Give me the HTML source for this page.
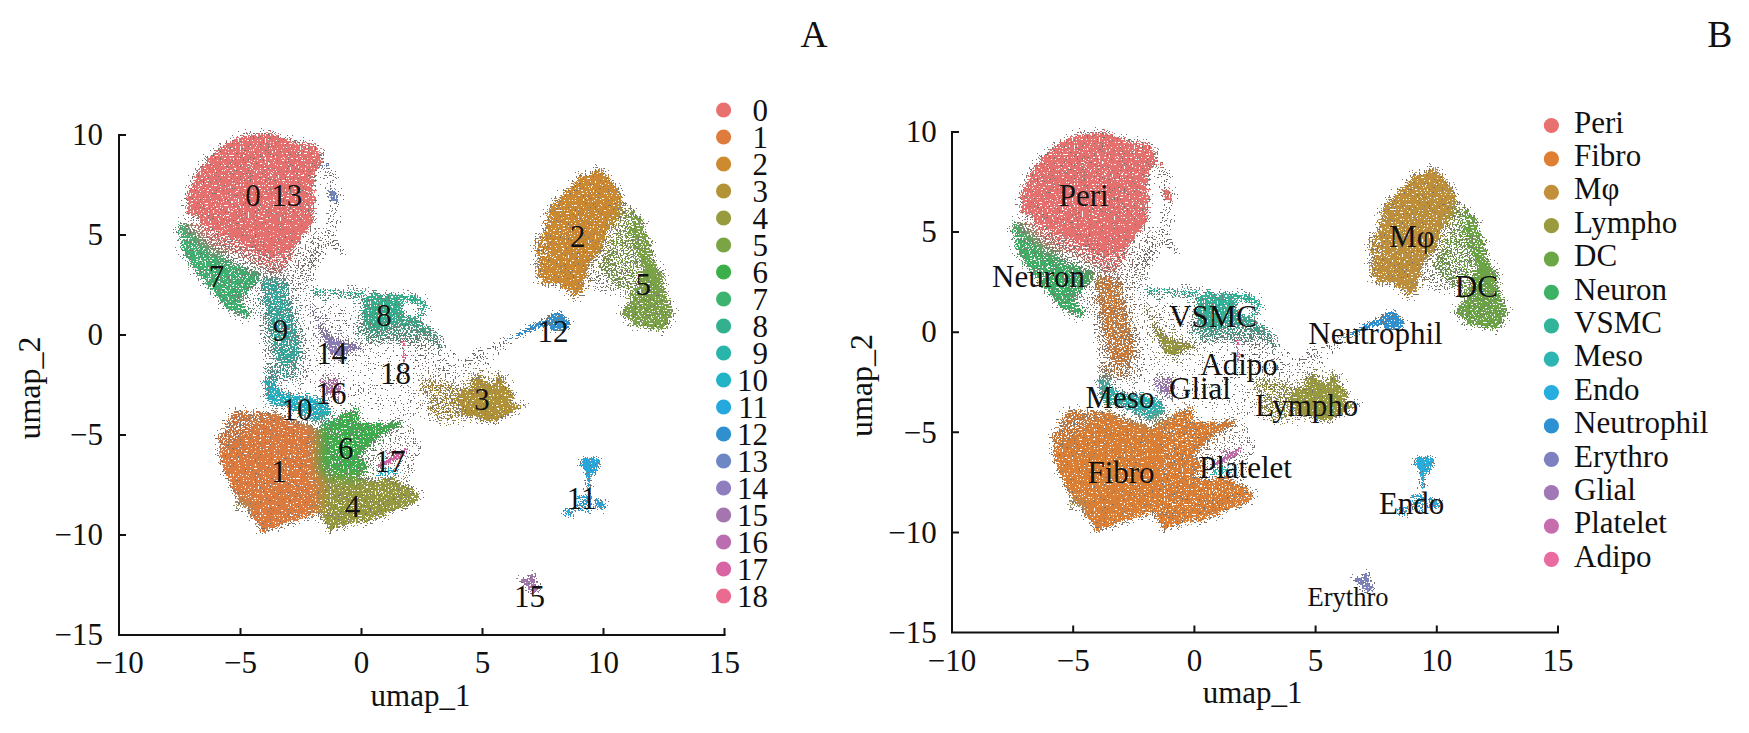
<!DOCTYPE html><html><head><meta charset="utf-8"><style>
html,body{margin:0;padding:0;background:#fff;width:1749px;height:733px;overflow:hidden}
svg{display:block}
text{font-family:"Liberation Serif",serif;fill:#111}
</style></head><body><svg width="1749" height="733" viewBox="0 0 1749 733"><defs><filter id="dith" filterUnits="userSpaceOnUse" x="0" y="0" width="1749" height="733" color-interpolation-filters="sRGB">
  <feTurbulence type="fractalNoise" baseFrequency="0.18" numOctaves="2" seed="4" result="dn"/>
  <feDisplacementMap in="SourceGraphic" in2="dn" scale="9" xChannelSelector="R" yChannelSelector="G" result="disp"/>
  <feGaussianBlur in="disp" stdDeviation="1.8" result="b"/>
  <feGaussianBlur in="disp" stdDeviation="3" result="b2"/>
  <feGaussianBlur in="disp" stdDeviation="6" result="bc"/>
  <feTurbulence type="fractalNoise" baseFrequency="0.6" numOctaves="1" seed="11" result="n"/>
  <feColorMatrix in="n" type="matrix" values="0 0 0 0 0 0 0 0 0 0 0 0 0 0 0 2.5 0 0 0 -0.75" result="na"/>
  <feComposite in="b" in2="na" operator="arithmetic" k1="0" k2="1" k3="-1" k4="0.48" result="d"/>
  <feComponentTransfer in="d" result="m"><feFuncA type="discrete" tableValues="0 1"/></feComponentTransfer>
  <feComposite in="bc" in2="m" operator="in" result="c"/>
  <feColorMatrix in="c" type="matrix" values="1 0 0 0 0 0 1 0 0 0 0 0 1 0 0 0 0 0 100 0" result="col"/>
  <feComposite in="b2" in2="b" operator="arithmetic" k1="-1.0" k2="1.0" k3="0" k4="0" result="gd"/>
  <feTurbulence type="fractalNoise" baseFrequency="0.6" numOctaves="1" seed="29" result="n2"/>
  <feColorMatrix in="n2" type="matrix" values="0 0 0 0 0 0 0 0 0 0 0 0 0 0 0 2.5 0 0 0 -0.75" result="na2"/>
  <feComposite in="gd" in2="na2" operator="arithmetic" k1="0" k2="1" k3="-1" k4="0.48" result="d2"/>
  <feComponentTransfer in="d2" result="m2"><feFuncA type="discrete" tableValues="0 1"/></feComponentTransfer>
  <feFlood flood-color="#7a746f" result="gc"/>
  <feComposite in="gc" in2="m2" operator="in" result="gray"/>
  <feMerge><feMergeNode in="col"/><feMergeNode in="gray"/></feMerge>
  <feGaussianBlur stdDeviation="0.7"/>
</filter><filter id="dith2" filterUnits="userSpaceOnUse" x="0" y="0" width="1749" height="733" color-interpolation-filters="sRGB">
  <feTurbulence type="fractalNoise" baseFrequency="0.18" numOctaves="2" seed="4" result="dn"/>
  <feDisplacementMap in="SourceGraphic" in2="dn" scale="2" xChannelSelector="R" yChannelSelector="G" result="disp"/>
  <feGaussianBlur in="disp" stdDeviation="1.0" result="b"/>
  <feGaussianBlur in="disp" stdDeviation="2" result="b2"/>
  <feGaussianBlur in="disp" stdDeviation="1.2" result="bc"/>
  <feTurbulence type="fractalNoise" baseFrequency="0.6" numOctaves="1" seed="11" result="n"/>
  <feColorMatrix in="n" type="matrix" values="0 0 0 0 0 0 0 0 0 0 0 0 0 0 0 2.5 0 0 0 -0.75" result="na"/>
  <feComposite in="b" in2="na" operator="arithmetic" k1="0" k2="1" k3="-1" k4="0.48" result="d"/>
  <feComponentTransfer in="d" result="m"><feFuncA type="discrete" tableValues="0 1"/></feComponentTransfer>
  <feComposite in="bc" in2="m" operator="in" result="c"/>
  <feColorMatrix in="c" type="matrix" values="1 0 0 0 0 0 1 0 0 0 0 0 1 0 0 0 0 0 100 0" result="col"/>
  <feComposite in="b2" in2="b" operator="arithmetic" k1="-1.0" k2="1.0" k3="0" k4="0" result="gd"/>
  <feTurbulence type="fractalNoise" baseFrequency="0.6" numOctaves="1" seed="29" result="n2"/>
  <feColorMatrix in="n2" type="matrix" values="0 0 0 0 0 0 0 0 0 0 0 0 0 0 0 2.5 0 0 0 -0.75" result="na2"/>
  <feComposite in="gd" in2="na2" operator="arithmetic" k1="0" k2="1" k3="-1" k4="0.48" result="d2"/>
  <feComponentTransfer in="d2" result="m2"><feFuncA type="discrete" tableValues="0 1"/></feComponentTransfer>
  <feFlood flood-color="#7a746f" result="gc"/>
  <feComposite in="gc" in2="m2" operator="in" result="gray"/>
  <feMerge><feMergeNode in="col"/><feMergeNode in="gray"/></feMerge>
  <feGaussianBlur stdDeviation="0.7"/>
</filter><g id="geo"><path id="s0" d="M184.8 222.0 200.0 240.0 216.0 251.0 240.5 254.2 265.1 272.2 281.5 275.5 289.6 264.0 304.0 235.5 313.0 222.0 300.0 215.0 230.0 225.0Z"/><path id="s1" d="M186.1 211.6 187.9 195.0 193.4 178.4 199.0 167.4 211.8 156.3 228.4 142.5 245.0 135.1 261.6 133.3 274.5 134.2 291.1 140.7 315.0 145.3 322.4 154.5 321.5 163.7 315.0 172.9 312.3 185.8 315.0 206.1 313.2 222.6 304.0 235.5 292.9 246.6 285.5 254.0 270.0 256.0 250.0 246.0 228.0 236.0 208.0 226.0 192.0 214.0Z"/><path id="s2" d="M180.0 220.0 192.0 232.0 210.0 248.0 232.0 262.0 258.0 272.0 260.0 280.0 248.0 289.0 242.0 300.0 251.0 316.0 238.0 316.0 221.0 302.0 211.0 290.2 199.6 275.5 188.1 260.8 179.9 249.3 179.0 230.0Z"/><path id="s3" d="M262.0 278.0 286.0 278.0 290.0 300.0 296.0 325.0 300.0 351.0 298.0 366.0 278.0 366.0 274.0 351.0 270.0 334.0 266.0 310.0 262.0 290.0Z"/><path id="s4" d="M266.0 366.0 298.0 366.0 296.0 378.0 268.0 380.0Z"/><path id="s5" d="M265.6 379.5 275.5 380.6 278.7 389.4 291.8 393.7 307.1 395.9 322.4 398.1 331.1 406.8 328.9 417.7 315.8 422.1 302.7 415.5 289.6 409.0 278.7 406.8 267.8 400.3 264.5 389.4Z"/><path id="s6" d="M310.2 305.1 313.0 306.0 322.1 322.2 327.2 334.1 335.7 344.3 349.4 346.0 363.0 346.0 363.0 348.0 339.1 351.2 328.9 349.5 322.1 337.5 316.0 320.0Z"/><path id="s7" d="M324.0 328.0 332.0 338.0 340.0 341.0 350.0 344.0 362.0 345.0 362.0 349.0 348.0 352.0 340.0 358.0 332.0 356.0 328.0 346.0Z"/><path id="s8" d="M322.4 376.3 342.0 378.0 340.0 398.1 325.0 396.0 320.0 386.0Z"/><path id="s9" d="M310.9 289.0 365.5 291.0 365.5 297.0 310.9 296.0Z"/><path id="s10" d="M365.5 294.6 398.0 293.5 401.0 305.0 399.0 324.0 390.0 328.0 380.0 330.0 366.0 326.0 362.0 310.0Z"/><path id="s11" fill-rule="evenodd" d="M398.0 293.5 422.8 297.3 428.2 306.8 422.8 315.0 417.3 324.6 405.0 324.0 398.0 327.0ZM403.0 303.0 420.0 304.0 418.0 315.0 404.0 319.0Z"/><path id="s12" d="M417.0 322.0 432.0 328.0 442.0 340.0 444.0 349.0 438.0 346.0 428.0 336.0 414.0 328.0Z"/><path id="s13" d="M354.0 324.0 420.0 326.0 430.0 340.0 365.0 340.0Z"/><path id="s14" d="M420.0 380.0 448.0 382.0 458.0 388.0 470.0 378.0 477.3 374.3 483.0 379.1 492.6 383.9 501.2 374.3 504.0 379.1 506.0 388.7 514.6 392.5 511.7 400.1 515.5 403.9 526.0 406.8 513.6 410.6 506.0 415.4 496.4 420.2 486.9 422.1 477.3 417.3 467.8 415.4 454.4 417.3 440.0 420.0 425.0 410.0 430.0 398.0 420.0 390.0Z"/><path id="s15" d="M477.3 374.3 483.0 379.1 492.6 383.9 501.2 374.3 504.0 379.1 506.0 388.7 514.6 392.5 511.7 400.1 515.5 403.9 526.0 406.8 513.6 410.6 506.0 415.4 496.4 420.2 486.9 422.1 477.3 417.3 467.8 415.4 454.4 417.3 463.0 409.7 453.4 400.1 458.2 392.5 473.5 390.6 473.5 382.0Z"/><path id="s16" d="M598.6 169.8 610.9 179.6 618.3 187.0 621.9 199.3 618.3 214.0 608.4 233.6 598.6 253.3 586.3 270.4 583.9 287.6 576.5 299.9 571.6 292.5 559.4 285.2 539.7 282.7 536.0 268.0 534.8 245.9 544.6 223.8 549.5 206.6 561.8 194.4 574.1 182.1 583.9 174.7Z"/><path id="s17" d="M598.6 169.8 618.3 187.0 621.9 199.3 618.3 214.0 608.4 233.6 598.6 253.3 586.3 270.4 583.9 287.6 576.5 299.9 571.6 292.5 559.4 285.2 542.0 283.0 540.0 268.0 548.0 250.0 547.0 230.0 552.0 210.0 562.0 194.0 574.0 182.0 584.0 175.0Z"/><path id="s18" d="M621.9 201.7 633.0 209.1 642.8 223.8 650.2 243.4 652.6 258.2 662.4 272.9 664.9 292.5 672.2 307.2 672.2 322.0 662.4 331.8 647.7 329.3 628.1 322.0 620.7 312.1 630.5 302.3 613.3 285.2 598.6 268.0 606.0 245.9 618.3 214.0Z"/><path id="s19" d="M645.0 240.0 652.6 258.2 662.4 272.9 664.9 292.5 672.2 307.2 672.2 322.0 662.4 331.8 647.7 329.3 628.1 322.0 620.7 312.1 630.5 302.3 640.0 280.0Z"/><path id="s20" d="M633.0 209.0 642.8 223.8 650.2 243.4 652.6 258.2 662.4 272.9 664.9 292.5 650.0 290.0 640.0 260.0 630.0 230.0Z"/><path id="s21" d="M217.9 438.5 223.8 428.6 229.8 416.8 239.7 410.8 259.4 412.8 275.3 410.8 285.1 418.7 301.0 422.7 316.8 428.6 327.0 434.5 328.0 454.0 327.0 474.0 326.0 490.0 322.0 509.7 304.9 517.6 289.1 521.6 275.3 527.5 263.4 531.4 255.5 521.6 245.6 509.7 235.7 497.8 227.8 478.1 219.9 458.3Z"/><path id="s22" d="M250.0 430.0 275.3 412.0 285.1 418.7 301.0 422.7 316.8 428.6 327.0 434.5 328.0 454.0 327.0 474.0 326.0 490.0 322.0 509.7 304.9 517.6 289.1 521.6 275.3 527.5 263.4 531.4 255.5 521.6 245.6 509.7 235.7 497.8 227.8 478.1 222.0 455.0 235.0 440.0Z"/><path id="s23" d="M319.9 422.7 339.7 416.7 355.5 408.8 359.4 422.7 379.2 424.7 399.0 420.7 404.9 420.7 385.1 434.5 369.3 446.4 361.4 454.3 369.0 472.0 353.5 480.0 329.8 482.0 318.0 472.0 318.0 444.4Z"/><path id="s24" d="M321.9 474.1 353.5 478.0 375.2 480.0 393.0 478.0 402.9 482.0 418.7 493.9 420.7 499.8 408.9 505.7 389.1 513.6 369.3 521.5 349.5 523.5 329.8 531.4 321.9 517.6 317.9 501.8Z"/><path id="s25" d="M233.7 501.8 249.5 503.0 248.0 509.7 236.0 509.0Z"/><path id="h0" d="M200.0 238.0 240.0 254.0 265.0 272.0 290.0 268.0 305.0 245.0 316.0 226.0 322.0 250.0 312.0 278.0 300.0 300.0 306.0 340.0 310.0 372.0 300.0 385.0 266.0 382.0 262.0 350.0 260.0 320.0 262.0 290.0 250.0 280.0 232.0 268.0 210.0 258.0Z"/><path id="h1" d="M235.0 277.0 262.0 285.0 265.0 316.0 250.0 318.0 236.0 300.0Z"/><path id="h2" d="M318.0 156.0 334.0 172.0 340.0 200.0 336.0 228.0 324.0 248.0 316.0 262.0 311.0 258.0 320.0 240.0 331.0 212.0 332.0 195.0 322.0 172.0Z"/><path id="h3" d="M329.0 238.0 345.0 251.0 343.0 254.0 327.0 241.0Z"/><path id="h4" d="M300.0 290.0 365.0 292.0 420.0 330.0 445.0 345.0 465.0 362.0 510.0 340.0 515.0 345.0 480.0 375.0 430.0 380.0 440.0 410.0 455.0 425.0 420.0 420.0 400.0 420.0 370.0 412.0 340.0 410.0 325.0 400.0 305.0 380.0 300.0 350.0Z"/><path id="h5" d="M305.0 300.0 335.0 300.0 370.0 350.0 345.0 360.0 315.0 345.0Z"/><path id="h6" d="M410.0 335.0 445.0 345.0 465.0 365.0 455.0 380.0 420.0 375.0Z"/><path id="h7" d="M585.0 262.0 612.0 250.0 622.0 285.0 615.0 295.0 600.0 290.0 582.0 285.0Z"/><path id="h8" d="M464.0 360.0 510.0 337.0 512.0 341.0 468.0 364.0Z"/><path id="h9" d="M360.0 430.0 405.0 420.0 420.0 440.0 412.0 478.0 395.0 482.0 365.0 472.0Z"/><path id="h10" d="M418.0 374.0 460.0 364.0 500.0 370.0 512.0 382.0 500.0 422.0 445.0 425.0 418.0 408.0Z"/><path id="h11" d="M355.0 320.0 425.0 322.0 445.0 350.0 365.0 342.0Z"/><path id="h12" d="M218.0 438.0 230.0 414.0 260.0 410.0 300.0 418.0 322.0 430.0 310.0 440.0 260.0 440.0 230.0 455.0Z"/><path id="f0" d="M580.5 457.6 599.6 458.6 600.0 465.0 590.2 478.6 589.5 490.0 587.5 490.0 586.0 472.0 581.0 465.0Z"/><path id="f1" d="M565.0 508.0 575.0 508.0 574.0 516.0 564.0 515.0Z"/><path id="f2" d="M578.0 494.0 592.0 496.0 590.0 512.0 577.0 510.0Z"/><path id="f3" d="M595.0 498.0 606.0 503.0 605.0 510.0 594.0 509.0Z"/><path id="f4" d="M514.8 577.5 521.4 579.1 527.9 579.6 530.6 572.6 533.9 574.2 536.7 583.5 540.5 592.7 530.1 591.7 524.1 584.6 517.6 579.1Z"/><path id="f5" d="M549.0 314.0 561.0 312.0 571.0 324.0 564.0 331.0 551.0 331.0 547.0 322.0Z"/><path id="f6" d="M506.0 342.0 524.0 330.0 540.0 321.0 549.0 318.0 550.0 326.0 538.0 328.0 522.0 335.0Z"/><path id="f7" d="M375.0 466.0 395.0 455.0 405.0 448.0 408.0 451.0 398.0 459.0 380.0 468.0Z"/><path id="f8" d="M385.0 451.0 396.0 450.0 392.0 455.0 386.0 455.0Z"/><path id="f9" d="M376.0 469.0 400.0 469.0 399.0 475.0 377.0 475.0Z"/><path id="f10" d="M402.8 337.6 404.6 337.6 405.4 362.5 403.4 362.5Z"/><path id="f11" d="M327.9 189.5 336.0 190.0 339.0 202.4 330.0 201.0Z"/><path id="f12" d="M322.4 163.7 329.8 164.0 329.0 166.5 322.0 166.5Z"/></g></defs><g transform="translate(0 0)"><g filter="url(#dith)" shape-rendering="crispEdges"><use href="#h0" fill="#6f6a66" fill-opacity="0.25"/><use href="#h1" fill="#6f6a66" fill-opacity="0.12"/><use href="#h2" fill="#6f6a66" fill-opacity="0.22"/><use href="#h3" fill="#6f6a66" fill-opacity="0.5"/><use href="#h4" fill="#6f6a66" fill-opacity="0.03"/><use href="#h5" fill="#6f6a66" fill-opacity="0.08"/><use href="#h6" fill="#6f6a66" fill-opacity="0.08"/><use href="#h7" fill="#6f6a66" fill-opacity="0.2"/><use href="#h8" fill="#6f6a66" fill-opacity="0.3"/><use href="#h9" fill="#6f6a66" fill-opacity="0.15"/><use href="#h10" fill="#6f6a66" fill-opacity="0.08"/><use href="#h11" fill="#6f6a66" fill-opacity="0.3"/><use href="#h12" fill="#6f6a66" fill-opacity="0.25"/><use href="#s0" fill="#E4716F" fill-opacity="0.55"/><use href="#s1" fill="#E4716F" fill-opacity="0.9"/><use href="#s2" fill="#3FB170" fill-opacity="0.8"/><use href="#s3" fill="#2DB3A8" fill-opacity="0.62"/><use href="#s4" fill="#2DB3A8" fill-opacity="0.35"/><use href="#s5" fill="#25B1C4" fill-opacity="0.8"/><use href="#s6" fill="#8E7DBB" fill-opacity="0.5"/><use href="#s7" fill="#8E7DBB" fill-opacity="0.85"/><use href="#s8" fill="#B76DAE" fill-opacity="0.6"/><use href="#s9" fill="#36AF8D" fill-opacity="0.5"/><use href="#s10" fill="#36AF8D" fill-opacity="0.85"/><use href="#s11" fill="#36AF8D" fill-opacity="0.72"/><use href="#s12" fill="#36AF8D" fill-opacity="0.5"/><use href="#s13" fill="#36AF8D" fill-opacity="0.35"/><use href="#s14" fill="#B09239" fill-opacity="0.42"/><use href="#s15" fill="#B09239" fill-opacity="0.93"/><use href="#s16" fill="#CB8933" fill-opacity="0.62"/><use href="#s17" fill="#CB8933" fill-opacity="0.85"/><use href="#s18" fill="#7BA247" fill-opacity="0.45"/><use href="#s19" fill="#7BA247" fill-opacity="0.72"/><use href="#s20" fill="#7BA247" fill-opacity="0.6"/><use href="#s21" fill="#DC7B40" fill-opacity="0.6"/><use href="#s22" fill="#DC7B40" fill-opacity="0.88"/><use href="#s23" fill="#3DAE4C" fill-opacity="0.85"/><use href="#s24" fill="#979A3F" fill-opacity="0.85"/><use href="#s25" fill="#36AF8D" fill-opacity="0.6"/></g><g filter="url(#dith2)" shape-rendering="crispEdges"><use href="#f0" fill="#28A6DA" fill-opacity="0.95"/><use href="#f1" fill="#28A6DA" fill-opacity="0.7"/><use href="#f2" fill="#28A6DA" fill-opacity="0.55"/><use href="#f3" fill="#28A6DA" fill-opacity="0.65"/><use href="#f4" fill="#A275AC" fill-opacity="0.9"/><use href="#f5" fill="#328ECC" fill-opacity="0.85"/><use href="#f6" fill="#328ECC" fill-opacity="0.8"/><use href="#f7" fill="#D465A1" fill-opacity="0.9"/><use href="#f8" fill="#D465A1" fill-opacity="0.6"/><use href="#f9" fill="#25B1C4" fill-opacity="0.55"/><use href="#f10" fill="#E66B8E" fill-opacity="0.9"/><use href="#f11" fill="#6D85C1" fill-opacity="0.85"/><use href="#f12" fill="#6D85C1" fill-opacity="0.7"/></g></g><g transform="translate(834 -1)"><g filter="url(#dith)" shape-rendering="crispEdges"><use href="#h0" fill="#6f6a66" fill-opacity="0.25"/><use href="#h1" fill="#6f6a66" fill-opacity="0.12"/><use href="#h2" fill="#6f6a66" fill-opacity="0.22"/><use href="#h3" fill="#6f6a66" fill-opacity="0.5"/><use href="#h4" fill="#6f6a66" fill-opacity="0.03"/><use href="#h5" fill="#6f6a66" fill-opacity="0.08"/><use href="#h6" fill="#6f6a66" fill-opacity="0.08"/><use href="#h7" fill="#6f6a66" fill-opacity="0.2"/><use href="#h8" fill="#6f6a66" fill-opacity="0.3"/><use href="#h9" fill="#6f6a66" fill-opacity="0.15"/><use href="#h10" fill="#6f6a66" fill-opacity="0.08"/><use href="#h11" fill="#6f6a66" fill-opacity="0.3"/><use href="#h12" fill="#6f6a66" fill-opacity="0.25"/><use href="#s0" fill="#E4716F" fill-opacity="0.55"/><use href="#s1" fill="#E4716F" fill-opacity="0.9"/><use href="#s2" fill="#3FAF65" fill-opacity="0.8"/><use href="#s3" fill="#DB7F36" fill-opacity="0.62"/><use href="#s4" fill="#DB7F36" fill-opacity="0.35"/><use href="#s5" fill="#30B3B0" fill-opacity="0.8"/><use href="#s6" fill="#999A40" fill-opacity="0.5"/><use href="#s7" fill="#999A40" fill-opacity="0.85"/><use href="#s8" fill="#9F78B4" fill-opacity="0.6"/><use href="#s9" fill="#34B299" fill-opacity="0.5"/><use href="#s10" fill="#34B299" fill-opacity="0.85"/><use href="#s11" fill="#34B299" fill-opacity="0.72"/><use href="#s12" fill="#34B299" fill-opacity="0.5"/><use href="#s13" fill="#34B299" fill-opacity="0.35"/><use href="#s14" fill="#999A40" fill-opacity="0.42"/><use href="#s15" fill="#999A40" fill-opacity="0.93"/><use href="#s16" fill="#BF8F3C" fill-opacity="0.62"/><use href="#s17" fill="#BF8F3C" fill-opacity="0.85"/><use href="#s18" fill="#6CA546" fill-opacity="0.45"/><use href="#s19" fill="#6CA546" fill-opacity="0.72"/><use href="#s20" fill="#6CA546" fill-opacity="0.6"/><use href="#s21" fill="#DB7F36" fill-opacity="0.6"/><use href="#s22" fill="#DB7F36" fill-opacity="0.88"/><use href="#s23" fill="#DB7F36" fill-opacity="0.85"/><use href="#s24" fill="#DB7F36" fill-opacity="0.85"/><use href="#s25" fill="#34B299" fill-opacity="0.6"/></g><g filter="url(#dith2)" shape-rendering="crispEdges"><use href="#f0" fill="#2AACDB" fill-opacity="0.95"/><use href="#f1" fill="#2AACDB" fill-opacity="0.7"/><use href="#f2" fill="#2AACDB" fill-opacity="0.55"/><use href="#f3" fill="#2AACDB" fill-opacity="0.65"/><use href="#f4" fill="#7D81BD" fill-opacity="0.9"/><use href="#f5" fill="#308FCE" fill-opacity="0.85"/><use href="#f6" fill="#308FCE" fill-opacity="0.8"/><use href="#f7" fill="#C36DAC" fill-opacity="0.9"/><use href="#f8" fill="#C36DAC" fill-opacity="0.6"/><use href="#f9" fill="#30B3B0" fill-opacity="0.55"/><use href="#f10" fill="#E46C9E" fill-opacity="0.9"/><use href="#f11" fill="#E4716F" fill-opacity="0.85"/><use href="#f12" fill="#E4716F" fill-opacity="0.7"/></g></g><path d="M119 134V635H725.5" fill="none" stroke="#111" stroke-width="2"/><path d="M119 135h7M119 235h7M119 335h7M119 435h7M119 535h7M240.5 635v-7M361.5 635v-7M482.5 635v-7M603.5 635v-7M724.5 635v-7" stroke="#111" stroke-width="2" fill="none"/><path d="M952 131V632.5H1559" fill="none" stroke="#111" stroke-width="2"/><path d="M952 132h7M952 232.1h7M952 332.2h7M952 432.3h7M952 532.4h7M1073.2 632.5v-7M1194.4 632.5v-7M1315.6 632.5v-7M1436.8 632.5v-7M1558 632.5v-7" stroke="#111" stroke-width="2" fill="none"/><circle cx="723.6" cy="110" r="7.6" fill="#E8716F"/><circle cx="723.6" cy="137" r="7.6" fill="#E07B3E"/><circle cx="723.6" cy="164" r="7.6" fill="#CE8A30"/><circle cx="723.6" cy="191" r="7.6" fill="#B29336"/><circle cx="723.6" cy="218" r="7.6" fill="#989B3D"/><circle cx="723.6" cy="245" r="7.6" fill="#7BA445"/><circle cx="723.6" cy="272" r="7.6" fill="#3BB04A"/><circle cx="723.6" cy="299" r="7.6" fill="#3DB370"/><circle cx="723.6" cy="326" r="7.6" fill="#33B18E"/><circle cx="723.6" cy="353" r="7.6" fill="#2AB5AA"/><circle cx="723.6" cy="380" r="7.6" fill="#22B3C7"/><circle cx="723.6" cy="407" r="7.6" fill="#25A8DE"/><circle cx="723.6" cy="434" r="7.6" fill="#2F8FCF"/><circle cx="723.6" cy="461" r="7.6" fill="#6D86C4"/><circle cx="723.6" cy="488" r="7.6" fill="#8F7DBE"/><circle cx="723.6" cy="515" r="7.6" fill="#A475AE"/><circle cx="723.6" cy="542" r="7.6" fill="#BA6DB0"/><circle cx="723.6" cy="569" r="7.6" fill="#D864A3"/><circle cx="723.6" cy="596" r="7.6" fill="#EB6A8F"/><circle cx="1551.4" cy="125.5" r="7.6" fill="#E8716F"/><circle cx="1551.4" cy="158.88" r="7.6" fill="#DF7F33"/><circle cx="1551.4" cy="192.26" r="7.6" fill="#C2903A"/><circle cx="1551.4" cy="225.64" r="7.6" fill="#9A9B3E"/><circle cx="1551.4" cy="259.02" r="7.6" fill="#6BA744"/><circle cx="1551.4" cy="292.4" r="7.6" fill="#3DB164"/><circle cx="1551.4" cy="325.78" r="7.6" fill="#31B49A"/><circle cx="1551.4" cy="359.16" r="7.6" fill="#2DB5B2"/><circle cx="1551.4" cy="392.54" r="7.6" fill="#27AEDF"/><circle cx="1551.4" cy="425.92" r="7.6" fill="#2D90D2"/><circle cx="1551.4" cy="459.3" r="7.6" fill="#7D81C0"/><circle cx="1551.4" cy="492.68" r="7.6" fill="#A178B6"/><circle cx="1551.4" cy="526.06" r="7.6" fill="#C66DAE"/><circle cx="1551.4" cy="559.44" r="7.6" fill="#E96BA0"/><text x="103" y="145.2" font-size="31" text-anchor="end">10</text><text x="119.5" y="673" font-size="31" text-anchor="middle">−10</text><text x="936.7" y="142.2" font-size="31" text-anchor="end">10</text><text x="952" y="670.5" font-size="31" text-anchor="middle">−10</text><text x="103" y="245.2" font-size="31" text-anchor="end">5</text><text x="240.5" y="673" font-size="31" text-anchor="middle">−5</text><text x="936.7" y="242.3" font-size="31" text-anchor="end">5</text><text x="1073.2" y="670.5" font-size="31" text-anchor="middle">−5</text><text x="103" y="345.2" font-size="31" text-anchor="end">0</text><text x="361.5" y="673" font-size="31" text-anchor="middle">0</text><text x="936.7" y="342.4" font-size="31" text-anchor="end">0</text><text x="1194.4" y="670.5" font-size="31" text-anchor="middle">0</text><text x="103" y="445.2" font-size="31" text-anchor="end">−5</text><text x="482.5" y="673" font-size="31" text-anchor="middle">5</text><text x="936.7" y="442.5" font-size="31" text-anchor="end">−5</text><text x="1315.6" y="670.5" font-size="31" text-anchor="middle">5</text><text x="103" y="545.2" font-size="31" text-anchor="end">−10</text><text x="603.5" y="673" font-size="31" text-anchor="middle">10</text><text x="936.7" y="542.6" font-size="31" text-anchor="end">−10</text><text x="1436.8" y="670.5" font-size="31" text-anchor="middle">10</text><text x="103" y="645.2" font-size="31" text-anchor="end">−15</text><text x="724.5" y="673" font-size="31" text-anchor="middle">15</text><text x="936.7" y="642.7" font-size="31" text-anchor="end">−15</text><text x="1558" y="670.5" font-size="31" text-anchor="middle">15</text><text x="420.5" y="706" font-size="31" text-anchor="middle">umap_1</text><text x="1252.6" y="703.3" font-size="31" text-anchor="middle">umap_1</text><text transform="translate(39.5 388) rotate(-90)" font-size="32" text-anchor="middle">umap_2</text><text transform="translate(871.5 385.5) rotate(-90)" font-size="32" text-anchor="middle">umap_2</text><text x="814" y="46.8" font-size="37.5" text-anchor="middle">A</text><text x="1719.7" y="46.8" font-size="37.5" text-anchor="middle">B</text><text x="768" y="120.5" font-size="31" text-anchor="end">0</text><text x="768" y="147.5" font-size="31" text-anchor="end">1</text><text x="768" y="174.5" font-size="31" text-anchor="end">2</text><text x="768" y="201.5" font-size="31" text-anchor="end">3</text><text x="768" y="228.5" font-size="31" text-anchor="end">4</text><text x="768" y="255.5" font-size="31" text-anchor="end">5</text><text x="768" y="282.5" font-size="31" text-anchor="end">6</text><text x="768" y="309.5" font-size="31" text-anchor="end">7</text><text x="768" y="336.5" font-size="31" text-anchor="end">8</text><text x="768" y="363.5" font-size="31" text-anchor="end">9</text><text x="768" y="390.5" font-size="31" text-anchor="end">10</text><text x="768" y="417.5" font-size="31" text-anchor="end">11</text><text x="768" y="444.5" font-size="31" text-anchor="end">12</text><text x="768" y="471.5" font-size="31" text-anchor="end">13</text><text x="768" y="498.5" font-size="31" text-anchor="end">14</text><text x="768" y="525.5" font-size="31" text-anchor="end">15</text><text x="768" y="552.5" font-size="31" text-anchor="end">16</text><text x="768" y="579.5" font-size="31" text-anchor="end">17</text><text x="768" y="606.5" font-size="31" text-anchor="end">18</text><text x="1574" y="132.7" font-size="31" text-anchor="start">Peri</text><text x="1574" y="166.08" font-size="31" text-anchor="start">Fibro</text><text x="1574" y="199.46" font-size="31" text-anchor="start">Mφ</text><text x="1574" y="232.84" font-size="31" text-anchor="start">Lympho</text><text x="1574" y="266.22" font-size="31" text-anchor="start">DC</text><text x="1574" y="299.6" font-size="31" text-anchor="start">Neuron</text><text x="1574" y="332.98" font-size="31" text-anchor="start">VSMC</text><text x="1574" y="366.36" font-size="31" text-anchor="start">Meso</text><text x="1574" y="399.74" font-size="31" text-anchor="start">Endo</text><text x="1574" y="433.12" font-size="31" text-anchor="start">Neutrophil</text><text x="1574" y="466.5" font-size="31" text-anchor="start">Erythro</text><text x="1574" y="499.88" font-size="31" text-anchor="start">Glial</text><text x="1574" y="533.26" font-size="31" text-anchor="start">Platelet</text><text x="1574" y="566.64" font-size="31" text-anchor="start">Adipo</text><text x="253" y="206" font-size="31" text-anchor="middle">0</text><text x="286.7" y="206" font-size="31" text-anchor="middle">13</text><text x="216.6" y="287.1" font-size="31" text-anchor="middle">7</text><text x="280.5" y="341.3" font-size="31" text-anchor="middle">9</text><text x="383.9" y="326" font-size="31" text-anchor="middle">8</text><text x="331.7" y="363.8" font-size="31" text-anchor="middle">14</text><text x="395.6" y="384.3" font-size="31" text-anchor="middle">18</text><text x="577.7" y="247" font-size="31" text-anchor="middle">2</text><text x="643.2" y="295" font-size="31" text-anchor="middle">5</text><text x="553.1" y="341.7" font-size="31" text-anchor="middle">12</text><text x="482" y="410.2" font-size="31" text-anchor="middle">3</text><text x="345.8" y="458.5" font-size="31" text-anchor="middle">6</text><text x="390.1" y="471.5" font-size="31" text-anchor="middle">17</text><text x="278.9" y="481.7" font-size="31" text-anchor="middle">1</text><text x="352.6" y="516.5" font-size="31" text-anchor="middle">4</text><text x="581.7" y="508.8" font-size="31" text-anchor="middle">11</text><text x="529.5" y="607.1" font-size="31" text-anchor="middle">15</text><text x="297" y="419.9" font-size="31" text-anchor="middle">10</text><text x="331" y="403.8" font-size="31" text-anchor="middle">16</text><text x="1083.7" y="206.1" font-size="31" text-anchor="middle">Peri</text><text x="1038.5" y="287" font-size="31" text-anchor="middle">Neuron</text><text x="1213" y="326.7" font-size="31" text-anchor="middle">VSMC</text><text x="1239" y="374.6" font-size="31" text-anchor="middle">Adipo</text><text x="1200" y="399.4" font-size="31" text-anchor="middle">Glial</text><text x="1120" y="408.3" font-size="31" text-anchor="middle">Meso</text><text x="1375.5" y="343.7" font-size="31" text-anchor="middle">Neutrophil</text><text x="1306.7" y="415.7" font-size="31" text-anchor="middle">Lympho</text><text x="1121" y="482.5" font-size="31" text-anchor="middle">Fibro</text><text x="1245.5" y="478.2" font-size="31" text-anchor="middle">Platelet</text><text x="1411.6" y="514" font-size="31" text-anchor="middle">Endo</text><text x="1412" y="246.7" font-size="31" text-anchor="middle">Mφ</text><text x="1476.3" y="296.6" font-size="31" text-anchor="middle">DC</text><text x="1348" y="605.9" font-size="26.5" text-anchor="middle">Erythro</text></svg></body></html>
